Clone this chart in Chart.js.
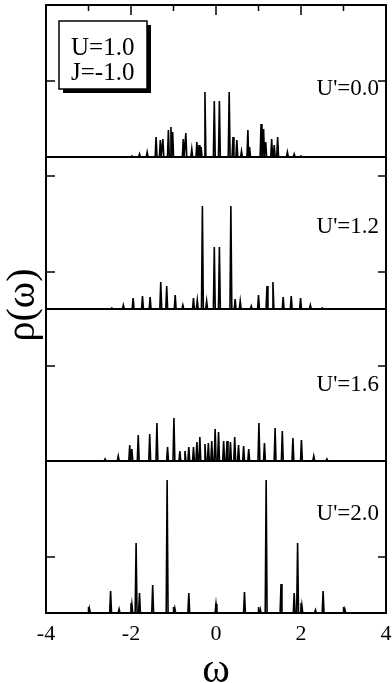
<!DOCTYPE html>
<html>
<head>
<meta charset="utf-8">
<script src="https://cdn.jsdelivr.net/npm/chart.js@4.4.0/dist/chart.umd.min.js"></script>
<style>
  html, body { margin: 0; padding: 0; background: #fff; }
  #wrap { width: 392px; height: 683px; }
</style>
</head>
<body>
<div id="wrap"><canvas id="chart"></canvas></div>
<script>
// Panel labels (top to bottom)
const panelLabels = ["U'=0.0", "U'=1.2", "U'=1.6", "U'=2.0"];
const legendLines = ['U=1.0', 'J=-1.0'];

// Peak positions (omega) and heights
const peaksPos0 = [-1.98, -1.80, -1.62, -1.41, -1.31, -1.25, -1.12, -1.06, -1.02, -0.77, -0.71, -0.57, -0.45, -0.40, -0.35, -0.26, -0.04, 0.08, 0.31, 0.40, 0.49, 0.60, 0.75, 0.79, 1.06, 1.12, 1.17, 1.31, 1.37, 1.45, 1.68, 1.84, 2.00];
const peaksH0   = [1, 3, 5, 20, 17, 18, 27, 30, 25, 18, 24, 8, 15, 12, 10, 65, 56, 56, 65, 20, 17, 6, 27, 10, 33, 28, 15, 18, 12, 20, 5, 3, 1];

const peaksPos1 = [-2.45, -2.18, -1.95, -1.73, -1.55, -1.30, -1.16, -0.96, -0.78, -0.53, -0.44, -0.32, -0.22, -0.04, 0.08, 0.35, 0.45, 0.57, 0.83, 1.00, 1.20, 1.34, 1.58, 1.77, 1.99, 2.22, 2.50];
const peaksH1   = [1, 4, 11, 13, 12, 27, 23, 14, 4, 11, 9, 103, 8, 62, 62, 103, 10, 8, 3, 14, 23, 27, 12, 13, 11, 4, 1];

const peaksPos2 = [-2.61, -2.30, -2.03, -1.98, -1.83, -1.56, -1.39, -1.14, -0.99, -0.85, -0.73, -0.64, -0.53, -0.45, -0.38, -0.26, -0.18, -0.10, -0.02, 0.06, 0.18, 0.26, 0.34, 0.44, 0.53, 0.65, 0.77, 1.01, 1.14, 1.39, 1.56, 1.81, 2.01, 2.30, 2.61];
const peaksH2   = [2, 5, 16, 12, 26, 27, 38, 14, 43, 10, 10, 14, 14, 19, 24, 17, 18, 20, 32, 29, 20, 20, 19, 24, 16, 15, 12, 38, 18, 33, 30, 23, 21, 5, 2];

const peaksPos3 = [-2.98, -2.48, -2.28, -1.98, -1.88, -1.80, -1.49, -1.15, -0.97, -0.64, 0.00, 0.67, 1.04, 1.18, 1.53, 1.84, 1.92, 2.02, 2.34, 2.52, 3.03];
const peaksH3   = [5, 22, 4, 9, 70, 20, 28, 133, 5, 20, 9, 21, 4, 133, 29, 20, 70, 8, 3, 22, 4];

// Axis settings
const xMin = -4, xMax = 4;
const xTickValues = [-4, -3, -2, -1, 0, 1, 2, 3, 4];
const yMax = 152;
const yTickValues = [[76], [37, 133], [95], [56]];

const panelIds = ['y0', 'y1', 'y2', 'y3'];
const labelOffsets = [84, 70, 76, 53];
const peakHalfWidth = 0.022;

// Build a spike line from peak list
function buildLine(pos, h) {
    const pts = [{x: xMin, y: 0}];
    pos.forEach((p, i) => {
        pts.push({x: p - peakHalfWidth, y: 0});
        pts.push({x: p, y: h[i]});
        pts.push({x: p + peakHalfWidth, y: 0});
    });
    pts.push({x: xMax, y: 0});
    return pts.sort((a, b) => a.x - b.x);
}

const allPos = [peaksPos0, peaksPos1, peaksPos2, peaksPos3];
const allH = [peaksH0, peaksH1, peaksH2, peaksH3];

const datasets = panelIds.map((id, i) => ({
    label: panelLabels[i],
    data: buildLine(allPos[i], allH[i]),
    yAxisID: id,
    borderColor: '#000',
    borderWidth: 1.6,
    pointRadius: 0,
    tension: 0,
    fill: false
}));

const serif = "'Liberation Serif', 'Times New Roman', serif";

const yScales = {};
panelIds.forEach((id, i) => {
    yScales[id] = {
        type: 'linear',
        position: 'left',
        stack: 'panels',
        stackWeight: 1,
        weight: panelIds.length - i,
        min: 0,
        max: yMax,
        ticks: { display: false },
        grid: { display: false },
        border: { display: false },
        afterFit: s => { s.width = 46; }
    };
});

function line(ctx, x1, y1, x2, y2) {
    ctx.beginPath();
    ctx.moveTo(x1, y1);
    ctx.lineTo(x2, y2);
    ctx.stroke();
}

// Draws frame, inward ticks, labels and legend box
const framePlugin = {
    id: 'frame',
    afterDraw(chart) {
        const {ctx, chartArea: a, scales} = chart;
        ctx.save();
        ctx.strokeStyle = '#000';
        ctx.fillStyle = '#000';
        ctx.lineWidth = 2;
        ctx.strokeRect(a.left, a.top, a.right - a.left, a.bottom - a.top);

        panelIds.forEach((id, i) => {
            const s = scales[id];
            if (i < panelIds.length - 1) line(ctx, a.left, s.bottom, a.right, s.bottom);
            ctx.lineWidth = 1.5;
            yTickValues[i].forEach(v => {
                const y = s.getPixelForValue(v);
                line(ctx, a.left, y, a.left + 9, y);
                line(ctx, a.right - 8, y, a.right, y);
            });
            ctx.lineWidth = 2;
            ctx.font = '23px ' + serif;
            ctx.textAlign = 'right';
            ctx.textBaseline = 'middle';
            ctx.fillText(panelLabels[i], a.right - 7, s.top + labelOffsets[i]);
        });

        // x ticks on top and bottom, pointing inward
        const xs = scales.x;
        ctx.lineWidth = 1.5;
        xTickValues.forEach(v => {
            if (v === xMin || v === xMax) return;
            const x = xs.getPixelForValue(v);
            const len = v % 2 === 0 ? 10 : 6;
            line(ctx, x, a.top, x, a.top + len);
            line(ctx, x, a.bottom, x, a.bottom - len);
        });

        // legend box with shadow
        ctx.fillStyle = '#000';
        ctx.fillRect(63, 25, 88, 68);
        ctx.fillStyle = '#fff';
        ctx.fillRect(59, 21, 88, 68);
        ctx.lineWidth = 1.5;
        ctx.strokeRect(59, 21, 88, 68);
        ctx.fillStyle = '#000';
        ctx.font = '25px ' + serif;
        ctx.textAlign = 'left';
        ctx.textBaseline = 'middle';
        ctx.fillText(legendLines[0], 71, 48);
        ctx.fillText(legendLines[1], 71, 73);

        // x axis title
        ctx.font = '42px ' + serif;
        ctx.textAlign = 'center';
        ctx.textBaseline = 'alphabetic';
        ctx.fillText('ω', xs.getPixelForValue(0), 682);

        // y axis title
        ctx.save();
        ctx.translate(23, 305);
        ctx.rotate(-Math.PI / 2);
        ctx.font = '40px ' + serif;
        ctx.textAlign = 'center';
        ctx.textBaseline = 'middle';
        ctx.fillText('ρ(ω)', 0, 0);
        ctx.restore();

        ctx.restore();
    }
};

new Chart(document.getElementById('chart'), {
    type: 'line',
    data: { datasets: datasets },
    options: {
        responsive: true,
        maintainAspectRatio: false,
        animation: false,
        layout: { padding: { left: 0, right: 6, top: 5, bottom: 0 } },
        plugins: {
            legend: { display: false },
            tooltip: { enabled: false }
        },
        scales: Object.assign({
            x: {
                type: 'linear',
                min: xMin,
                max: xMax,
                afterBuildTicks: s => { s.ticks = xTickValues.map(v => ({value: v})); },
                ticks: {
                    color: '#000',
                    font: { family: serif, size: 22 },
                    padding: 0,
                    maxRotation: 0,
                    callback: v => (v % 2 === 0 ? String(v) : '')
                },
                grid: { display: false },
                border: { display: false },
                title: { display: false },
                afterFit: s => { s.height = 70; }
            }
        }, yScales)
    },
    plugins: [framePlugin]
});
</script>
</body>
</html>
